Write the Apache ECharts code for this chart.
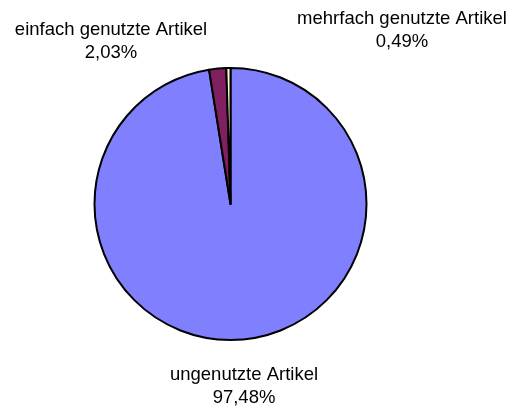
<!DOCTYPE html>
<html>
<head>
<meta charset="utf-8">
<script src="https://cdn.jsdelivr.net/npm/echarts@6/dist/echarts.min.js"></script>
<style>
  html, body { margin: 0; padding: 0; background: #ffffff; }
  #chart { width: 508px; height: 410px; }
</style>
</head>
<body>
<div id="chart"></div>
<script>
// Share of articles by usage (percent)
const categories = ['ungenutzte Artikel', 'einfach genutzte Artikel', 'mehrfach genutzte Artikel'];
const shares = [97.48, 2.03, 0.49];
const sliceColors = ['#8080ff', '#802060', '#ffffcc'];

// Where each slice's caption sits (centre of the two-line text block)
const labelSpots = [
  { x: 244, y: 386 },
  { x: 111, y: 41 },
  { x: 402, y: 30 }
];

const fmt = v => v.toFixed(2).replace('.', ',') + '%';

const chart = echarts.init(document.getElementById('chart'), null, { renderer: 'canvas' });
chart.setOption({
  animation: false,
  backgroundColor: '#ffffff',
  series: [{
    type: 'pie',
    center: [230.5, 204],
    radius: [0, 136],
    startAngle: 90,
    clockwise: true,
    minAngle: 0,
    avoidLabelOverlap: false,
    data: categories.map((name, i) => ({
      name,
      value: shares[i],
      itemStyle: { color: sliceColors[i] }
    })),
    itemStyle: { borderColor: '#000000', borderWidth: 2 },
    emphasis: { disabled: true },
    label: {
      show: true,
      position: 'outside',
      formatter: p => p.name + '\n' + fmt(p.value),
      fontFamily: 'Liberation Sans, Arial, sans-serif',
      fontSize: 18.5,
      lineHeight: 23,
      color: '#000000',
      align: 'center'
    },
    labelLine: { show: false },
    labelLayout: p => ({
      x: labelSpots[p.dataIndex].x,
      y: labelSpots[p.dataIndex].y,
      align: 'center',
      verticalAlign: 'middle'
    })
  }]
});
</script>
</body>
</html>
